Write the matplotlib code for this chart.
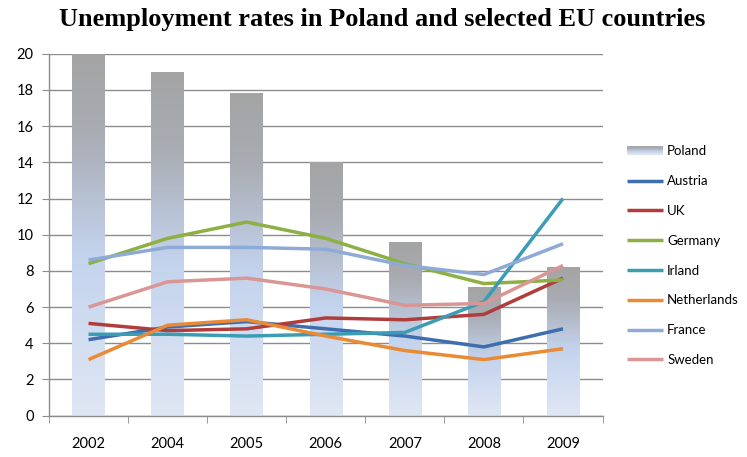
import matplotlib
matplotlib.use("Agg")
import matplotlib.pyplot as plt
import numpy as np
from matplotlib.colors import LinearSegmentedColormap
from matplotlib.patches import Rectangle
from matplotlib.legend_handler import HandlerBase

years = ["2002", "2004", "2005", "2006", "2007", "2008", "2009"]

poland = [20.0, 19.0, 17.8, 14.0, 9.6, 7.1, 8.2]
austria = [4.2, 4.9, 5.2, 4.8, 4.4, 3.8, 4.8]
uk = [5.1, 4.7, 4.8, 5.4, 5.3, 5.6, 7.6]
germany = [8.4, 9.8, 10.7, 9.8, 8.4, 7.3, 7.5]
irland = [4.5, 4.5, 4.4, 4.5, 4.6, 6.3, 12.0]
netherlands = [3.1, 5.0, 5.3, 4.4, 3.6, 3.1, 3.7]
france = [8.6, 9.3, 9.3, 9.2, 8.3, 7.8, 9.5]
sweden = [6.0, 7.4, 7.6, 7.0, 6.1, 6.2, 8.3]

series = [
    ("Austria", austria, "#3f6eae"),
    ("UK", uk, "#b03d3b"),
    ("Germany", germany, "#8cb043"),
    ("Irland", irland, "#3a9db4"),
    ("Netherlands", netherlands, "#ea8a35"),
    ("France", france, "#8eaad6"),
    ("Sweden", sweden, "#d99694"),
]

# bar fill: light blue at the bottom, grey at the top
bar_cmap = LinearSegmentedColormap.from_list(
    "bar", [(0.0, "#e0e7f4"), (0.45, "#c3d3ed"), (0.78, "#a9acb3"), (1.0, "#a4a4a4")])


class GradientHandler(HandlerBase):
    def create_artists(self, legend, orig_handle, xdescent, ydescent,
                       width, height, fontsize, trans):
        n = 10
        arts = []
        for i in range(n):
            r = Rectangle((-xdescent, -ydescent + height * i / n), width, height / n + 0.2,
                          facecolor=bar_cmap((i + 0.5) / n), edgecolor="none",
                          transform=trans)
            arts.append(r)
        return arts


fig = plt.figure(figsize=(7.47, 4.57), dpi=100)
ax = fig.add_axes([0.0656, 0.0904, 0.741, 0.792])

x = np.arange(len(years))
bw = 0.41
bars = ax.bar(x, poland, width=bw, color="none", zorder=2)
grad = np.linspace(0, 1, 256).reshape(-1, 1)
for rect in bars:
    x0 = rect.get_x()
    h = rect.get_height()
    ax.imshow(grad, cmap=bar_cmap, extent=[x0, x0 + bw, 0, h], origin="lower",
              aspect="auto", zorder=2, interpolation="bilinear")

handles = [Rectangle((0, 0), 1, 1, label="Poland")]
for name, vals, col in series:
    ln, = ax.plot(x, vals, color=col, lw=2.5, zorder=3, solid_capstyle="butt", label=name)
    handles.append(ln)

ax.set_xlim(-0.5, len(years) - 0.5)
ax.set_ylim(0, 20)
ax.set_yticks(range(0, 21, 2))
ax.set_xticks(x)
ax.set_xticklabels(years)
ax.set_xticks(np.arange(-0.5, len(years), 1), minor=True)
ax.grid(axis="y", color="#8c8c8c", lw=1.0, zorder=0)
ax.set_axisbelow(True)
for s in ["top", "right"]:
    ax.spines[s].set_visible(False)
for s in ["left", "bottom"]:
    ax.spines[s].set_color("#8c8c8c")
    ax.spines[s].set_linewidth(1.0)
ax.tick_params(axis="x", which="major", length=0, pad=15, labelsize=10.5)
ax.tick_params(axis="x", which="minor", length=5, color="#8c8c8c", direction="out")
ax.tick_params(axis="y", length=5, color="#8c8c8c", labelsize=10.5, pad=6)
for lab in ax.get_xticklabels() + ax.get_yticklabels():
    lab.set_fontfamily("Lato")

fig.text(0.511, 0.958, "Unemployment rates in Poland and selected EU countries",
         ha="center", va="center", fontsize=19, fontweight="bold",
         family="Liberation Serif")

leg = fig.legend(handles=handles, loc="upper left", bbox_to_anchor=(0.84, 0.682),
                 frameon=False, prop={"family": "Lato", "size": 9.5},
                 handlelength=2.7, handletextpad=0.3, labelspacing=1.35,
                 borderaxespad=0, borderpad=0,
                 handler_map={Rectangle: GradientHandler()})

fig.savefig("out.png", dpi=100)
